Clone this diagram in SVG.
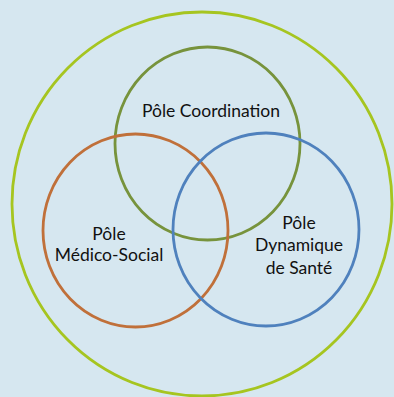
<svg xmlns="http://www.w3.org/2000/svg" width="394" height="397" viewBox="0 0 394 397">
<style>
.c{fill:none;stroke-width:2.8}
.t{font-family:Lato,"Open Sans",sans-serif;font-size:17.5px;fill:#111;text-anchor:middle}
</style>
<rect width="394" height="397" fill="#D6E7F0"/>
<g id="outer"><ellipse class="c" cx="202" cy="204" rx="190" ry="192" stroke="#A6C520"/></g>
<g id="coordination"><ellipse class="c" cx="207.5" cy="143.5" rx="92.5" ry="96.5" stroke="#77933C"/>
<text class="t" x="211" y="117">Pôle Coordination</text></g>
<g id="medico-social"><ellipse class="c" cx="135.5" cy="230.5" rx="92.5" ry="96.5" stroke="#C0703A"/>
<text class="t" x="109" y="240">Pôle</text><text class="t" x="109" y="261">Médico-Social</text></g>
<g id="dynamique"><ellipse class="c" cx="266" cy="229.5" rx="93" ry="96.5" stroke="#4F81BD"/>
<text class="t" x="299" y="229">Pôle</text><text class="t" x="299" y="251">Dynamique</text><text class="t" x="299" y="274">de Santé</text></g>
<g id="connectors"/>
</svg>
